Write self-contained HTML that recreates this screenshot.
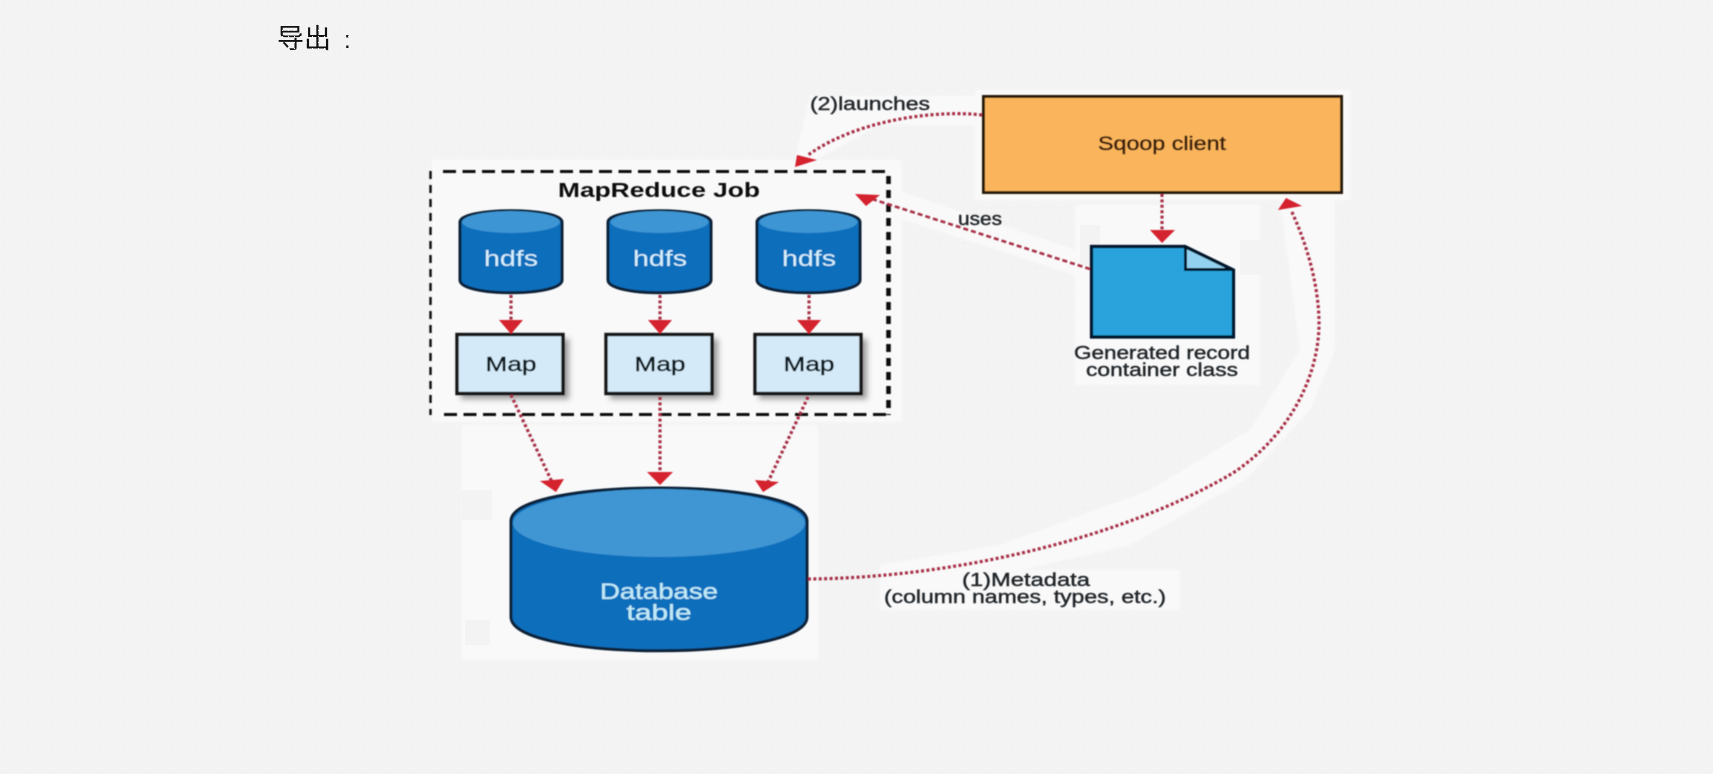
<!DOCTYPE html>
<html lang="zh">
<head>
<meta charset="utf-8">
<title>Sqoop export</title>
<style>
html,body{margin:0;padding:0;width:1713px;height:774px;overflow:hidden;background:#f3f3f3}
svg{position:absolute;left:0;top:0}
.h{position:absolute;font:27px/38px "Liberation Sans","Noto Sans CJK SC",sans-serif;color:#111}
text{font-family:"Liberation Sans",sans-serif;text-anchor:middle}
</style>
</head>
<body>
<div class="h" style="left:277px;top:20px">导出</div>
<div class="h" style="left:344px;top:22px;font-size:24px">:</div>
<svg width="1713" height="774" viewBox="0 0 1713 774" xmlns="http://www.w3.org/2000/svg">
<defs>
<pattern id="dots" width="6" height="6" patternUnits="userSpaceOnUse"><rect width="1" height="1" fill="#fafafa"/></pattern>
<filter id="b" x="-5%" y="-5%" width="110%" height="110%"><feGaussianBlur stdDeviation="0.6"/></filter>
<filter id="s" x="-20%" y="-20%" width="140%" height="140%"><feGaussianBlur stdDeviation="3"/></filter>
<filter id="w" x="-5%" y="-5%" width="110%" height="110%"><feGaussianBlur stdDeviation="1"/></filter>
</defs>
<rect width="1713" height="774" fill="url(#dots)"/>
<!-- whitish background remains of the source image -->
<g fill="#f9f9f9" filter="url(#w)">
<rect x="975" y="90" width="375" height="110"/>
<rect x="432" y="160" width="470" height="262"/>
<rect x="1075" y="205" width="185" height="180"/>
<rect x="462" y="425" width="356" height="235"/>
<rect x="880" y="570" width="300" height="40"/>
<path d="M810 96H975V125H880L815 160H795Z"/>
<path d="M880 185L1090 255V280L880 212Z"/>
<path d="M1280 200H1335V350L1310 410L1245 480L1130 545L1000 575L880 580V565L1000 545L1150 490L1250 430L1300 350Z"/>
</g>
<g fill="#f3f3f3">
<rect x="462" y="490" width="30" height="30"/><rect x="840" y="440" width="30" height="25"/>
<rect x="915" y="270" width="30" height="25"/>
<rect x="935" y="340" width="30" height="25"/><rect x="1080" y="225" width="20" height="40"/>
<rect x="465" y="620" width="25" height="25"/><rect x="1240" y="240" width="25" height="35"/>
</g>
<g filter="url(#b)">
<!-- dashed container -->
<g fill="none" stroke="#111">
<path d="M443 171.5H889" stroke-width="3" stroke-dasharray="13 6.5"/>
<path d="M444 414.5H889" stroke-width="3" stroke-dasharray="13 6.5"/>
<path d="M430.5 171V415" stroke-width="2.4" stroke-dasharray="8 6"/>
<path d="M888.5 176V415" stroke-width="4.6" stroke-dasharray="8 6"/>
</g>
<text x="659" y="197" font-size="20.5" font-weight="700" fill="#111" textLength="202" lengthAdjust="spacingAndGlyphs">MapReduce Job</text>

<!-- hdfs cylinders -->
<g>
<path d="M460 222C460 207 562 207 562 222V280C562 297 460 297 460 280Z" fill="#0a6ebc" stroke="#0a2238" stroke-width="3"/>
<ellipse cx="511" cy="222" rx="49" ry="11" fill="#3d95d3"/>
<text x="511" y="266" font-size="22" fill="#d5effb" textLength="54" lengthAdjust="spacingAndGlyphs">hdfs</text>
</g>
<g>
<path d="M608 222C608 207 711 207 711 222V280C711 297 608 297 608 280Z" fill="#0a6ebc" stroke="#0a2238" stroke-width="3"/>
<ellipse cx="659.5" cy="222" rx="49" ry="11" fill="#3d95d3"/>
<text x="660" y="266" font-size="22" fill="#d5effb" textLength="54" lengthAdjust="spacingAndGlyphs">hdfs</text>
</g>
<g>
<path d="M757 222C757 207 860 207 860 222V280C860 297 757 297 757 280Z" fill="#0a6ebc" stroke="#0a2238" stroke-width="3"/>
<ellipse cx="808.5" cy="222" rx="49" ry="11" fill="#3d95d3"/>
<text x="809" y="266" font-size="22" fill="#d5effb" textLength="54" lengthAdjust="spacingAndGlyphs">hdfs</text>
</g>

<!-- map boxes -->
<g fill="#666" opacity=".65" filter="url(#s)">
<rect x="461" y="339" width="108" height="60"/><rect x="610" y="339" width="108" height="60"/><rect x="759" y="339" width="108" height="60"/>
</g>
<g fill="#d4eaf8" stroke="#141414" stroke-width="3.4">
<rect x="457" y="334.5" width="106" height="59"/><rect x="606" y="334.5" width="106" height="59"/><rect x="755" y="334.5" width="106" height="59"/>
</g>
<g font-size="20.5" fill="#101c24" stroke="#101c24" stroke-width=".45">
<text x="511" y="371" textLength="51" lengthAdjust="spacingAndGlyphs">Map</text>
<text x="660" y="371" textLength="51" lengthAdjust="spacingAndGlyphs">Map</text>
<text x="809" y="371" textLength="51" lengthAdjust="spacingAndGlyphs">Map</text>
</g>

<!-- sqoop client -->
<rect x="983.5" y="96.5" width="358" height="96" fill="#fab55c" stroke="#2a1c10" stroke-width="3"/>
<text x="1162" y="150" font-size="19" stroke="#3e2008" stroke-width=".55" fill="#3e2008" textLength="128" lengthAdjust="spacingAndGlyphs">Sqoop client</text>

<!-- document -->
<path d="M1091.5 246.5H1185L1233.5 270V337H1091.5Z" fill="#2ba3dd" stroke="#06152a" stroke-width="3.2"/>
<path d="M1185.5 247L1232 269.5H1185.5Z" fill="#92d1ef" stroke="#06152a" stroke-width="3"/>
<g font-size="18" fill="#24282c" stroke="#24282c" stroke-width=".4">
<text x="1162" y="359" textLength="176" lengthAdjust="spacingAndGlyphs">Generated record</text>
<text x="1162" y="376" textLength="152" lengthAdjust="spacingAndGlyphs">container class</text>
<text x="870" y="110" textLength="120" lengthAdjust="spacingAndGlyphs">(2)launches</text>
<text x="980" y="225" textLength="44" lengthAdjust="spacingAndGlyphs">uses</text>
<text x="1026" y="586" textLength="128" lengthAdjust="spacingAndGlyphs">(1)Metadata</text>
<text x="1025" y="603" textLength="282" lengthAdjust="spacingAndGlyphs">(column names, types, etc.)</text>
</g>

<!-- database -->
<path d="M511 521C511 477 807 477 807 521V617C807 662 511 662 511 617Z" fill="#0a6ebc" stroke="#0a2238" stroke-width="3"/>
<ellipse cx="659" cy="523" rx="146" ry="34" fill="#3f96d3"/>
<text x="659" y="599" font-size="22.5" fill="#bfe9f7" stroke="#bfe9f7" stroke-width=".3" textLength="118" lengthAdjust="spacingAndGlyphs">Database</text>
<text x="659" y="620" font-size="22.5" fill="#bfe9f7" stroke="#bfe9f7" stroke-width=".3" textLength="65" lengthAdjust="spacingAndGlyphs">table</text>

<!-- connectors -->
<g fill="none" stroke="#a83348" stroke-width="3.2" stroke-dasharray="3 2.4">
<path d="M982 115C940 110 860 118 808 155"/>
<path d="M1090 269L872 199" stroke-width="2.6" stroke-dasharray="5 3"/>
<path d="M1162 194V232"/>
<path d="M511 295V321"/><path d="M660 295V321"/><path d="M809 295V321"/>
<path d="M511 395L552 482"/><path d="M660 397V473"/><path d="M808 397L768 482"/>
<path d="M808 579C950 578 1120 540 1233 473C1290 435 1320 375 1319 320C1318 280 1305 240 1291 210"/>
</g>
<g fill="#d4202f">
<path d="M795 167L817 160L797 155Z"/>
<path d="M855 194L880 195L866 206Z"/>
<path d="M1150 230H1175L1162 243Z"/>
<path d="M499 320H523L511 334Z"/><path d="M648 320H672L660 334Z"/><path d="M797 320H821L809 334Z"/>
<path d="M540 481L564 479L556 492Z"/><path d="M647 472H673L660 485Z"/><path d="M755 480L779 482L763 492Z"/>
<path d="M1278 210L1302 206L1286 198Z"/>
</g>
</g>
</svg>
</body>
</html>
